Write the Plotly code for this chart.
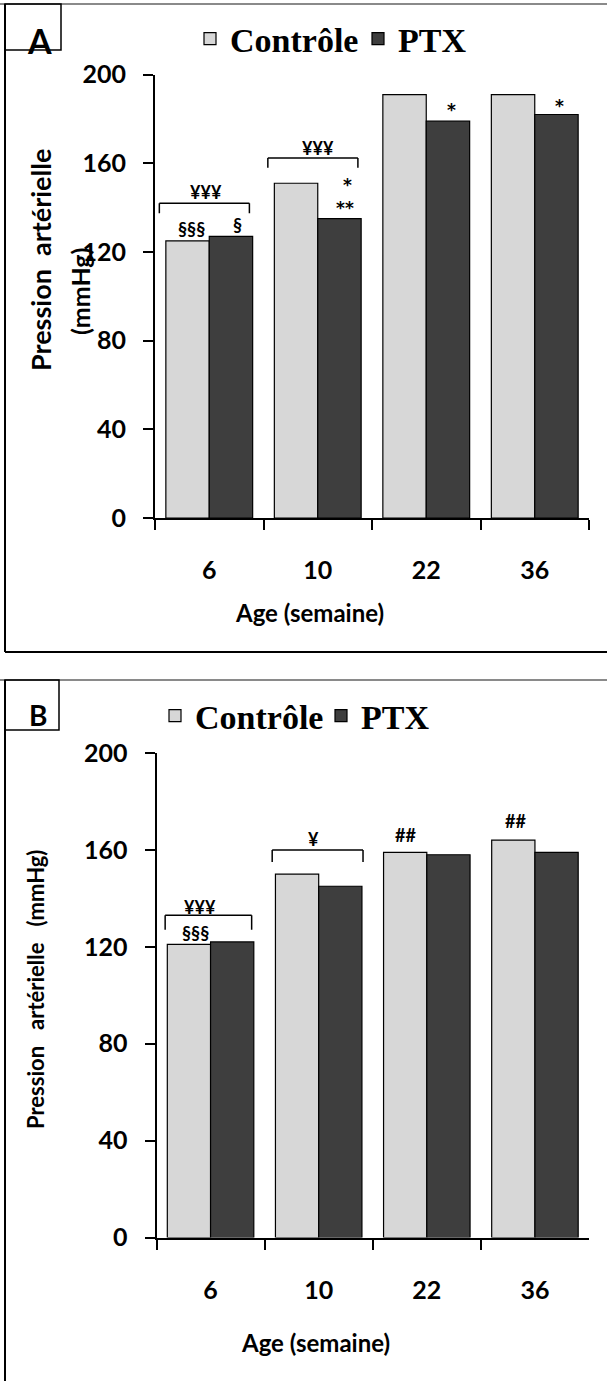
import plotly.graph_objects as go

# ---------------- data ----------------
categories = ["6", "10", "22", "36"]
ctrl_A = [125, 151, 191, 191]
ptx_A = [127, 135, 179, 182]
ctrl_B = [121, 150, 159, 164]
ptx_B = [122, 145, 158, 159]
y_ticks = [0, 40, 80, 120, 160, 200]
series_names = ["Contrôle", "PTX"]

W, H = 607, 1381
def px(x): return x / W
def py(y): return 1 - y / H

C_LIGHT = "#D7D7D7"
C_DARK = "#3E3E3E"
SANS = "Lato"

fig = go.Figure()
for ctrl, ptx, xa, ya, lg in [(ctrl_A, ptx_A, "x", "y", "legend"), (ctrl_B, ptx_B, "x2", "y2", "legend2")]:
    fig.add_trace(go.Bar(x=categories, y=ctrl, name=series_names[0], xaxis=xa, yaxis=ya, legend=lg,
                         marker=dict(color=C_LIGHT, line=dict(color="black", width=1.2))))
    fig.add_trace(go.Bar(x=categories, y=ptx, name=series_names[1], xaxis=xa, yaxis=ya, legend=lg,
                         marker=dict(color=C_DARK, line=dict(color="black", width=1.2))))

def xaxis_cfg(dom, anchor):
    return dict(domain=dom, anchor=anchor, type="category", tickson="boundaries",
                ticks="outside", ticklen=10, tickwidth=2, tickcolor="black",
                showline=True, linewidth=2, linecolor="black", showgrid=False,
                tickfont=dict(family=SANS, size=25, color="black", weight="bold"),
                ticklabelstandoff=29, range=[-0.5, 3.5])

def yaxis_cfg(dom, anchor):
    return dict(domain=dom, anchor=anchor, range=[0, 200], tickvals=y_ticks,
                ticks="outside", ticklen=10, tickwidth=2, tickcolor="black",
                showline=True, linewidth=2, linecolor="black", showgrid=False, zeroline=False,
                tickfont=dict(family=SANS, size=25, color="black", weight="bold"),
                ticklabelstandoff=12)

LEG_FONT = dict(family="Liberation Serif", size=34, color="black", weight="bold")
fig.update_layout(
    width=W, height=H, margin=dict(l=0, r=0, t=0, b=0, autoexpand=False),
    paper_bgcolor="white", plot_bgcolor="white",
    barmode="group", bargap=0.2, bargroupgap=0.0,
    xaxis=xaxis_cfg([px(155), px(589)], "y"),
    yaxis=yaxis_cfg([py(518), py(74.6)], "x"),
    xaxis2=xaxis_cfg([px(156.5), px(589)], "y2"),
    yaxis2=yaxis_cfg([py(1237.5), py(753)], "x2"),
    legend=dict(orientation="h", x=px(190), y=py(39), xanchor="left", yanchor="middle",
                font=LEG_FONT, entrywidth=123, entrywidthmode="pixels",
                bgcolor="rgba(0,0,0,0)", traceorder="normal"),
    legend2=dict(orientation="h", x=px(155), y=py(716), xanchor="left", yanchor="middle",
                 font=LEG_FONT, entrywidth=121, entrywidthmode="pixels",
                 bgcolor="rgba(0,0,0,0)", traceorder="normal"),
    showlegend=True,
)

shapes = []
# frames
shapes.append(dict(type="line", xref="paper", yref="paper", x0=0, x1=1, y0=py(4), y1=py(4),
                   line=dict(color="#8a8a8a", width=2)))
shapes.append(dict(type="line", xref="paper", yref="paper", x0=px(5), x1=px(5), y0=py(4), y1=py(652),
                   line=dict(color="black", width=2)))
shapes.append(dict(type="line", xref="paper", yref="paper", x0=px(5), x1=1, y0=py(652), y1=py(652),
                   line=dict(color="black", width=2)))
shapes.append(dict(type="rect", xref="paper", yref="paper", x0=px(5), x1=px(61), y0=py(50), y1=py(4),
                   line=dict(color="black", width=1.5)))
shapes.append(dict(type="line", xref="paper", yref="paper", x0=0, x1=1, y0=py(680), y1=py(680),
                   line=dict(color="#8a8a8a", width=2)))
shapes.append(dict(type="line", xref="paper", yref="paper", x0=px(5), x1=px(5), y0=py(680), y1=0,
                   line=dict(color="black", width=2)))
shapes.append(dict(type="rect", xref="paper", yref="paper", x0=px(5), x1=px(59), y0=py(730), y1=py(680),
                   line=dict(color="black", width=1.5)))

def bracket(xa, ya, xl, xr, ytop, ybot):
    lw = dict(color="black", width=1.5)
    return [dict(type="line", xref=xa, yref=ya, x0=xl, x1=xr, y0=ytop, y1=ytop, line=lw),
            dict(type="line", xref=xa, yref=ya, x0=xl, x1=xl, y0=ytop, y1=ybot, line=lw),
            dict(type="line", xref=xa, yref=ya, x0=xr, x1=xr, y0=ytop, y1=ybot, line=lw)]

shapes += bracket("x", "y", -0.46, 0.37, 142, 137.5)
shapes += bracket("x", "y", 1 - 0.46, 1 + 0.37, 162.4, 158)
shapes += bracket("x2", "y2", -0.42, 0.38, 133, 127)
shapes += bracket("x2", "y2", 1 - 0.43, 1 + 0.41, 160, 155)
fig.update_layout(shapes=shapes)

ann = []
def note(xa, ya, x, y, text, size=18, family=SANS):
    ann.append(dict(xref=xa, yref=ya, x=x, y=y, text=text, showarrow=False,
                    font=dict(family=family, size=size, color="black", weight="bold"),
                    xanchor="center", yanchor="middle"))

STAR = "DejaVu Sans"
# panel A marks
note("x", "y", -0.03, 147, "¥¥¥")
note("x", "y", -0.16, 130.5, "§§§")
note("x", "y", 0.26, 132, "§")
note("x", "y", 1, 167, "¥¥¥")
note("x", "y", 1.27, 150, "*", 17, STAR)
note("x", "y", 1.25, 140, "**", 17, STAR)
note("x", "y", 2.23, 184, "*", 17, STAR)
note("x", "y", 3.23, 186, "*", 17, STAR)
# panel B marks
note("x2", "y2", -0.1, 136.5, "¥¥¥")
note("x2", "y2", -0.14, 125.5, "§§§")
note("x2", "y2", 0.95, 164.5, "¥")
note("x2", "y2", 1.8, 166, "##")
note("x2", "y2", 2.82, 172, "##")

# paper text
def ptext(x, y, text, size, angle=0, family=SANS, weight="bold"):
    ann.append(dict(xref="paper", yref="paper", x=px(x), y=py(y), text=text, showarrow=False,
                    textangle=angle, xanchor="center", yanchor="middle",
                    font=dict(family=family, size=size, color="black", weight=weight)))

ptext(39.5, 40, "A", 34)
ptext(38, 715, "B", 28)
ptext(309, 612, "Age (semaine)", 24)
ptext(315, 1342, "Age (semaine)", 24)
ptext(40, 260, "Pression  artérielle", 27, -90)
ptext(80, 292, "(mmHg)", 25, -90)
ptext(36, 990, "Pression   artérielle   (mmHg)", 22, -90)
fig.update_layout(annotations=ann)

fig.write_html("out.html", config={"displayModeBar": False},
               post_script="document.body.style.margin='0';document.body.style.overflow='hidden';")
